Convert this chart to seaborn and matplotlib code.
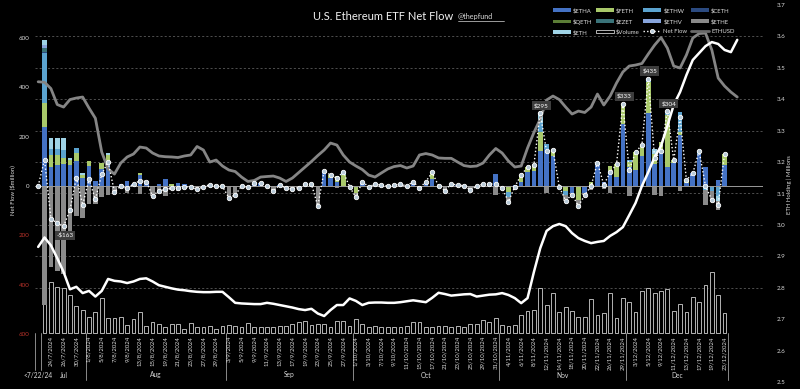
import numpy as np
import matplotlib
matplotlib.use('Agg')
import matplotlib.pyplot as plt
import matplotlib.transforms as mtransforms
from matplotlib.patches import Patch
from matplotlib.lines import Line2D
import seaborn as sns

# trading days on the category axis
jul_days = [23, 24, 25, 26, 29, 30, 31]
aug_days = [1, 2, 5, 6, 7, 8, 9, 12, 13, 14, 15, 16, 19, 20, 21, 22, 23, 26, 27, 28, 29, 30]
sep_days = [3, 4, 5, 6, 9, 10, 11, 12, 13, 16, 17, 18, 19, 20, 23, 24, 25, 26, 27, 30]
oct_days = [1, 2, 3, 4, 7, 8, 9, 10, 11, 14, 15, 16, 17, 18, 21, 22, 23, 24, 25, 28, 29, 30, 31]
nov_days = [1, 4, 5, 6, 7, 8, 11, 12, 13, 14, 15, 18, 19, 20, 21, 22, 25, 26, 27, 29]
dec_days = [2, 3, 4, 5, 6, 9, 10, 11, 12, 13, 16, 17, 18, 19, 20, 23]
months = [('Jul', 7, jul_days), ('Aug', 8, aug_days), ('Sep', 9, sep_days),
          ('Oct', 10, oct_days), ('Nov', 11, nov_days), ('Dec', 12, dec_days)]
first_label = '<7/22/24'

# daily flows per fund ($M), first entry is the pre-launch slot
etha = [0, 240, 78, 85, 90, 85, 100, 33, 80, 20, 70, 90, 0, 10, 20, 10, 45, 20, 0, 10, 28, 0, 12, 10, 0, 0, 0, 5, 1, 0,
        0, 0, 0, 0, 11, 11, 0, 0, 4, 0, 0, 0, 7, 0, 0, 62, 34, 15, 0, 0,
        0, 18, 0, 7, 4, 0, 4, 7, 0, 18, 0, 18, 30, 0, 0, 8, 4, 1, 0, 0, 7, 7, 47,
        0, 0, 5, 15, 58, 60, 140, 150, 120, 0, 0, -30, 0, -30, 0, 85, 18, 60, 38, 250,
        75, 65, 120, 295, 90, 145, 75, 95, 205, 14, 51, 130, 78, 0, 24, 85]
feth = [0, 95, 47, 40, 25, 20, 35, 12, 21, 0, 22, 35, 0, 0, 0, 0, 8, 0, 0, 0, 0, 10, 0, 0, 0, 0, 0, 0, 0, 0,
        0, 0, 0, 0, 0, 0, 0, 0, 0, 0, 0, 0, 0, 7, 0, 0, 10, 25, 45, 0,
        -30, 0, 0, 0, 0, 0, 0, 0, 0, 0, 0, 0, 25, 0, 0, 0, 0, 0, 0, 0, 0, 0, 0,
        0, -26, 0, 30, 18, 25, 80, 0, 26, 0, -20, 0, -57, 0, 18, 0, 0, 22, 50, 83,
        24, 72, 47, 125, 40, 35, 214, 10, 15, 10, 0, 0, 0, 0, 0, 45]
ethw = [0, 205, 27, 25, 30, 0, 19, 0, 0, 0, 0, 0, 0, 0, 0, 0, 0, 0, 0, 0, 0, 0, 0, 0, 0, 0, 0, 0, 0, 0,
        0, 0, 0, 0, 0, 0, 0, 0, 0, 0, 0, 0, 0, 0, 0, 0, 0, 0, 13, 0,
        0, 0, 0, 0, 0, 0, 0, 0, 0, 0, 0, 0, 0, 0, 0, 0, 0, 0, 0, 0, 0, 0, 0,
        0, -17, 0, 0, 0, 0, 35, 20, 0, 0, -15, 0, 0, 0, 0, 0, 0, 0, 0, 0,
        6, 0, 0, 15, 0, 0, 15, 0, 80, 0, 0, 12, -18, -22, -40, 0]
ceth = [0, 5] + [0] * 107
qeth = [0] * 109
ezet = [0, 13] + [0] * 107
ethv = [0, 15] + [0] * 107
eth_mini = [0, 18, 43, 45, 48, 7, 0, 8, 0, 0, 0, 10, 0, 0, 0, 0, 0, 0, 0, 0, 0, 0, 0, 0, 0, 0, 0, 0, 0, 0,
            0, 0, 0, 0, 0, 0, 0, 0, 0, 0, 0, 0, 0, 0, 0, 0, 0, 0, 0, 0,
            0, 0, 0, 0, 0, 0, 0, 0, 0, 0, 0, 0, 0, 0, 0, 0, 0, 0, 0, 0, 0, 0, 0,
            0, 0, 0, 0, 0, 0, 40, 0, 0, 0, 0, 0, 0, 0, 0, 10, 0, 0, 0, 0,
            0, 0, 0, 0, 18, 0, 0, 0, 0, 0, 0, 0, 0, 0, -19, 0]
ethe = [0, -484, -327, -346, -356, -210, -120, -130, -74, -74, -44, -37, -24, -10, -30, -2, -32, -2, -40, -29, -42, -18, -20, -13, -5, -14, -3, 0, 0, -2,
        -47, -37, 0, -5, 0, 0, 0, -20, 0, -9, -13, -9, 0, 0, -81, 0, 0, -9, 0, -3,
        -16, 0, -3, 0, 0, 0, 0, 0, 0, 0, -9, 0, 0, 0, -19, 0, 0, 0, -16, 0, 0, 0, -37,
        -9, -20, -8, 0, 0, 0, 0, -30, 0, -4, -24, -5, -24, -7, -18, 0, -13, -27, 0, 0,
        -40, 0, 0, 0, -36, -40, 0, 0, -20, 0, 0, 0, -60, -35, -40, 0]

# daily traded volume ($M)
volume = [0, 1100, 963, 880, 860, 722, 519, 431, 298, 393, 659, 291, 291, 310, 152, 260, 393, 139, 215, 165, 120, 177, 177, 76, 196, 120, 120, 133, 76, 139,
          152, 139, 114, 184, 114, 114, 114, 120, 133, 139, 177, 215, 228, 152, 165, 165, 114, 228, 228, 139,
          260, 177, 114, 139, 114, 114, 114, 120, 139, 203, 203, 114, 120, 139, 133, 114, 139, 114, 165, 165, 247, 203, 279,
          152, 133, 152, 342, 424, 437, 855, 532, 760, 405, 488, 418, 310, 310, 646, 342, 374, 760, 279, 665,
          589, 399, 798, 855, 760, 798, 836, 418, 551, 399, 684, 589, 912, 1159, 722, 380]

# ETF ETH holdings (millions of ETH) and ETH price (USD)
eth_holding = [2.930, 2.960, 2.935, 2.894, 2.850, 2.795, 2.803, 2.783, 2.790, 2.772, 2.790, 2.828, 2.822, 2.820, 2.815,
               2.820, 2.828, 2.830, 2.820, 2.808, 2.803, 2.798, 2.794, 2.792, 2.789, 2.787, 2.786, 2.786, 2.787, 2.787,
               2.770, 2.752, 2.750, 2.749, 2.748, 2.748, 2.752, 2.749, 2.745, 2.741, 2.737, 2.732, 2.729, 2.733, 2.718,
               2.710, 2.729, 2.745, 2.745, 2.766, 2.758, 2.745, 2.752, 2.753, 2.753, 2.752, 2.752, 2.754, 2.757, 2.760,
               2.757, 2.754, 2.768, 2.784, 2.780, 2.775, 2.777, 2.779, 2.780, 2.772, 2.775, 2.778, 2.779, 2.783, 2.777,
               2.767, 2.751, 2.767, 2.850, 2.926, 2.981, 2.996, 3.003, 2.996, 2.974, 2.958, 2.949, 2.942, 2.946, 2.949,
               2.965, 2.977, 2.993, 3.031, 3.070, 3.124, 3.168, 3.216, 3.251, 3.315, 3.382, 3.423, 3.477, 3.525, 3.547,
               3.569, 3.582, 3.576, 3.557, 3.550, 3.589]
ethusd = [3483, 3477, 3408, 3231, 3203, 3286, 3303, 3314, 3192, 3079, 2706, 2518, 2462, 2584, 2651, 2684, 2761, 2750,
          2695, 2662, 2654, 2651, 2645, 2662, 2673, 2767, 2728, 2595, 2617, 2551, 2507, 2490, 2429, 2380, 2391, 2429,
          2435, 2440, 2418, 2380, 2418, 2479, 2540, 2601, 2667, 2728, 2805, 2783, 2673, 2595, 2551, 2512, 2451, 2429,
          2474, 2518, 2545, 2556, 2529, 2551, 2673, 2689, 2673, 2640, 2636, 2636, 2595, 2556, 2545, 2551, 2584, 2673,
          2745, 2695, 2606, 2540, 2551, 2750, 2921, 3071, 3281, 3325, 3286, 3203, 3126, 3159, 3143, 3203, 3347, 3226,
          3325, 3469, 3591, 3657, 3668, 3685, 3790, 3889, 3972, 3856, 3657, 3635, 3779, 3967, 4016, 4022, 3834, 3524,
          3436, 3369, 3314]

funds = [('$ETHA', etha, '#4472c4'), ('$FETH', feth, '#a9c96a'), ('$ETHW', ethw, '#5ba3cf'),
         ('$CETH', ceth, '#2b4a80'), ('$QETH', qeth, '#5b7d36'), ('$EZET', ezet, '#3a7379'),
         ('$ETHV', ethv, '#87a4dc'), ('$ETH', eth_mini, '#9fd3e6'), ('$ETHE', ethe, '#8a8a8a')]

labels = [first_label]
for name, m, days in months:
    labels += [f'{d}/{m}/2024' for d in days]
x = np.arange(len(labels))
net_flow = np.sum([np.array(v, dtype=float) for _, v, _ in funds], axis=0)

sns.set_theme(style='dark', rc={'axes.facecolor': 'black', 'figure.facecolor': 'black'})
plt.rcParams['font.family'] = ['Lato', 'DejaVu Sans']

W, H = 800, 389
fig = plt.figure(figsize=(W / 100, H / 100), dpi=100)
rect = [35 / W, (H - 382) / H, 728 / W, 377 / H]
ax_v = fig.add_axes(rect)
ax = ax_v.twinx()
ax_p = ax_v.twinx()
ax_r = ax_v.twinx()
ax_n = ax_v.twinx()
for i, a in enumerate([ax_v, ax, ax_p, ax_r, ax_n]):
    a.set_zorder(i + 1)
    if i > 0:
        a.patch.set_visible(False)
    for s in a.spines.values():
        s.set_visible(False)
    a.set_xlim(-0.5, 114.05)
    a.set_xticks([])
    a.grid(False)
ax_v.set_facecolor('black')

# volume (hidden scale)
ax_v.set_ylim(-931, 6232)
ax_v.set_yticks([])
vx = [i for i in x if volume[i] > 0]
ax_v.bar(vx, [volume[i] for i in vx], width=0.6, facecolor='black', edgecolor='#d0d0d0', linewidth=0.6)

# net flow axis (left)
ylo, yhi = -794.5, 733.7
ax.set_ylim(ylo, yhi)
ax_n.set_ylim(ylo, yhi)
ax_n.set_yticks([])
left_ticks = [-600, -400, -200, 0, 200, 400, 600]
ax.yaxis.tick_left()
ax.set_yticks(left_ticks)
ax.set_yticklabels([str(abs(t)) for t in left_ticks], fontsize=4.5)
for t, lab in zip(left_ticks, ax.get_yticklabels()):
    lab.set_color('#b8322a' if t < 0 else '#d9d9d9')
ax.tick_params(axis='y', length=0, pad=4)

# right axis (holdings)
ax_r.set_ylim(2.5, 3.7)
rt = np.round(np.arange(2.5, 3.71, 0.1), 1)
ax_r.set_yticks(rt)
ax_r.set_yticklabels([f'{t:.1f}' for t in rt], fontsize=4.5, color='#d9d9d9')
ax_r.tick_params(axis='y', length=0, pad=10)

# gridlines from right-axis ticks
gtr = mtransforms.blended_transform_factory(ax_v.transAxes, ax_r.transData)
for g in rt[3:12]:
    ax_v.plot([0, 1], [g, g], transform=gtr, color='#5a5a5a', lw=0.6, ls=(0, (2.5, 2.5)), zorder=0)

# stacked bars
pos_base = np.zeros(len(x))
neg_base = np.zeros(len(x))
for name, vals, col in funds:
    v = np.array(vals, dtype=float)
    p = np.clip(v, 0, None)
    n = np.clip(v, None, 0)
    ax.bar(x, p, bottom=pos_base, width=0.72, color=col, linewidth=0, zorder=2)
    ax.bar(x, n, bottom=neg_base, width=0.72, color=col, linewidth=0, zorder=2)
    pos_base += p
    neg_base += n
ax.axhline(0, color='#9a9a9a', lw=0.7, zorder=3)

# price line (hidden scale)
ax_p.set_ylim(162, 4332)
ax_p.set_yticks([])
sns.lineplot(x=np.arange(len(ethusd)), y=ethusd, ax=ax_p, color='#858585', lw=2.0, legend=False)
ax_p.set_ylabel('')

# holdings line
sns.lineplot(x=np.arange(len(eth_holding)), y=eth_holding, ax=ax_r, color='white', lw=1.8, legend=False)
ax_r.set_ylabel('')

# net flow dots
ax_n.plot(x, net_flow, color='white', lw=1.0, ls=(0, (1, 1.6)), marker='o', ms=3.2,
          mfc='#b9cbd9', mec='white', mew=0.6, zorder=5)
for i in [4, 79, 92, 96, 99]:
    v = net_flow[i]
    txt = f'${v:.0f}' if v > 0 else f'-${abs(v):.0f}'
    ax_n.annotate(txt, (x[i], v), xytext=(1, 5.5 if v > 0 else -6.5), textcoords='offset points',
                  ha='center', va='center', fontsize=4.6, color='white',
                  bbox=dict(boxstyle='square,pad=0.3', fc='#3d3d3d', ec='none'))

# category axis labels
tr = mtransforms.blended_transform_factory(ax.transData, fig.transFigure)
for i in range(2, len(labels), 2):
    ax.text(x[i], (H - 336) / H, labels[i], transform=tr, rotation=90, ha='center', va='top',
            fontsize=4.3, color='#d9d9d9', clip_on=False)
bounds = [-0.5, 0.5]
for name, m, days in months:
    bounds.append(bounds[-1] + len(days))
group_names = [first_label] + [mn for mn, _, _ in months]
for k, gname in enumerate(group_names):
    ax.text((bounds[k] + bounds[k + 1]) / 2, (H - 375) / H, gname, transform=tr, ha='center', va='center',
            fontsize=4.8, color='#d9d9d9', clip_on=False)
for k, b in enumerate(bounds):
    y_end = 370 if k < 2 else 380
    ax.plot([b, b], [(H - 333) / H, (H - y_end) / H], transform=tr, color='#a0a0a0', lw=0.6, clip_on=False)

# titles and axis labels
fig.text(383 / W, 1 - 16 / H, 'U.S. Ethereum ETF Net Flow', ha='center', va='center', fontsize=8, color='#f2f2f2')
fig.text(458 / W, 1 - 17 / H, '@thepfund', ha='left', va='center', fontsize=5.2, color='#d9d9d9')
fig.add_artist(Line2D([458 / W, 504 / W], [1 - 21 / H, 1 - 21 / H], color='#d9d9d9', lw=0.5))
fig.text(12 / W, 1 - 190 / H, 'Net Flow ($million)', rotation=90, ha='center', va='center', fontsize=4.3, color='#d9d9d9')
fig.text(789 / W, 1 - 185 / H, 'ETH Holding | Millions', rotation=90, ha='center', va='center', fontsize=4.3, color='#d9d9d9')

# legend (column-major order)
def patch(c):
    return Patch(facecolor=c, edgecolor='none')
cols = {n: c for n, _, c in funds}
handles = [patch(cols['$ETHA']), patch(cols['$QETH']), patch(cols['$ETH']),
           patch(cols['$FETH']), patch(cols['$EZET']), Patch(facecolor='black', edgecolor='#d0d0d0', lw=0.6),
           patch(cols['$ETHW']), patch(cols['$ETHV']),
           Line2D([], [], color='white', lw=1.0, ls=(0, (1, 1.6)), marker='o', ms=3, mfc='#b9cbd9', mec='white', mew=0.6),
           patch(cols['$CETH']), patch(cols['$ETHE']), Line2D([], [], color='#6a6a6a', lw=2.0)]
names = ['$ETHA', '$QETH', '$ETH', '$FETH', '$EZET', '$Volume', '$ETHW', '$ETHV', 'Net Flow', '$CETH', '$ETHE', 'ETHUSD']
fig.legend(handles, names, ncol=4, loc='upper left', bbox_to_anchor=(553 / W, 1 - 8 / H), frameon=False,
           fontsize=4.3, labelcolor='#d9d9d9', handlelength=3.0, handleheight=0.6, handletextpad=0.35,
           columnspacing=0.6, labelspacing=0.85, borderaxespad=0, borderpad=0)

fig.savefig('out.png', dpi=100, facecolor='black')
